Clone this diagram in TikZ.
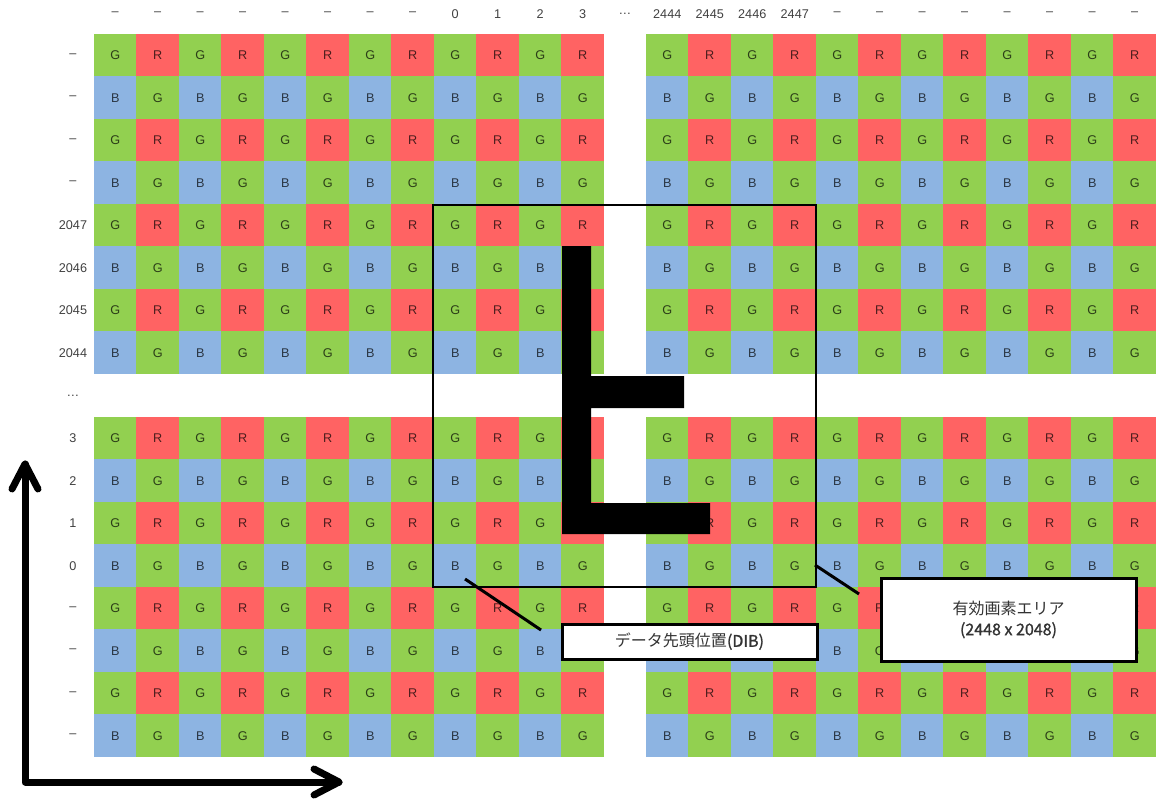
\documentclass[tikz,border=0pt]{standalone}
\usepackage{fontspec}
\setmainfont{Liberation Sans}
\newfontfamily\jpfont{Noto Sans CJK JP}
\newfontfamily\jpmed[FakeBold=1.2]{Noto Sans CJK JP}
\definecolor{cg}{HTML}{92D050}
\definecolor{cr}{HTML}{FF6363}
\definecolor{cb}{HTML}{8DB4E2}
\definecolor{lbl}{HTML}{404040}
\tikzset{
  cell/.style={minimum size=32.2pt, inner sep=0pt, text=black, text opacity=0.7,
    font=\fontsize{9.5}{10}\selectfont},
  lab/.style={text=lbl, inner sep=0pt, font=\fontsize{9.5}{10}\selectfont},
  areabox/.style={draw=black, line width=1.5pt, minimum width=287.25pt,
    minimum height=286.5pt, inner sep=0pt},
  callout/.style={draw=black, fill=white, line width=2.25pt, inner sep=0pt,
    font=\jpfont\fontsize{12}{15.75}\selectfont, text=black!80, align=center},
  leader/.style={line width=2.25pt, draw=black},
  axisline/.style={line width=5.25pt, line cap=round, line join=round, draw=black}
}
\begin{document}
\begin{tikzpicture}[x=0.75pt, y=-0.75pt]
\useasboundingbox (0,0) rectangle (1161,799);
% cells
\foreach \r in {0,...,15}{
  \foreach \c in {0,...,23}{
    \pgfmathtruncatemacro{\k}{2*mod(\r,2)+mod(\c,2)}
    \pgfmathtruncatemacro{\hide}{((\r==13)&&(\c>=11)&&(\c<=15)) || ((\r>=12)&&(\r<=13)&&(\c>=18)&&(\c<=22)) || ((\c==11)&&(\r>=5)&&(\r<=10)) || ((\r==10)&&(\c==12))}
    \pgfmathsetmacro{\x}{\c<12 ? 94+42.5*(\c+0.5) : 646+42.5*(\c-11.5)}
    \pgfmathsetmacro{\y}{\r<8 ? 34+42.5*(\r+0.5) : 417+42.5*(\r-7.5)}
    \ifcase\k \def\lt{G}\def\cl{cg}\or \def\lt{R}\def\cl{cr}\or
      \def\lt{B}\def\cl{cb}\or \def\lt{G}\def\cl{cg}\fi
    \ifnum\hide=1 \def\lt{}\fi
    \node[cell, fill=\cl] (c\r-\c) at (\x,\y) {\lt};
  }
}
% column labels
\foreach \t [count=\i from 0] in {–,–,–,–,–,–,–,–,0,1,2,3,2444,2445,2446,2447,–,–,–,–,–,–,–,–}{
  \pgfmathsetmacro{\x}{\i<12 ? 94+42.5*(\i+0.5) : 646+42.5*(\i-11.5)}
  \node[lab] (col\i) at (\x,14) {\t};
}
\node[lab] (coldots) at (625,14) {…};
% row labels
\foreach \t [count=\i from 0] in {–,–,–,–,2047,2046,2045,2044,3,2,1,0,–,–,–,–}{
  \pgfmathsetmacro{\y}{\i<8 ? 34+42.5*(\i+0.5) : 417+42.5*(\i-7.5)}
  \node[lab] (row\i) at (73,\y) {\t};
}
\node[lab] (rowdots) at (73,396) {…};
% big orientation mark
\fill[black] (562,246) -- (591,246) -- (591,376) -- (684,376) -- (684,408) -- (591,408)
  -- (591,503) -- (710,503) -- (710,534) -- (562,534) -- cycle;
% effective area
\node[areabox] (area) at (624.5,396) {};
% callouts
\node[callout, minimum width=191.25pt, minimum height=26.25pt] (dib) at (689.5,641.5)
  {データ先頭位置{\jpmed(DIB)}};
\node[callout, minimum width=191.25pt, minimum height=62.25pt] (eff) at (1008.5,619.5)
  {有効画素エリア\\{\jpmed(2448 x 2048)}};
\coordinate (l1a) at (465,579);
\coordinate (l1b) at (541,630);
\coordinate (l2a) at (815,565);
\coordinate (l2b) at (859,594);
\draw[leader] (l1a) -- (l1b);
\draw[leader] (l2a) -- (l2b);
% axes
\coordinate (org) at (25,782);
\coordinate (ytip) at (25,464);
\coordinate (xtip) at (339,782);
\coordinate (ya) at (12,489);
\coordinate (yb) at (38,489);
\coordinate (xa) at (314,769);
\coordinate (xb) at (314,795);
\draw[axisline] (ytip) -- (org) -- (xtip);
\draw[axisline] (ya) -- (ytip) -- (yb);
\draw[axisline] (xa) -- (xtip) -- (xb);
\end{tikzpicture}
\end{document}
